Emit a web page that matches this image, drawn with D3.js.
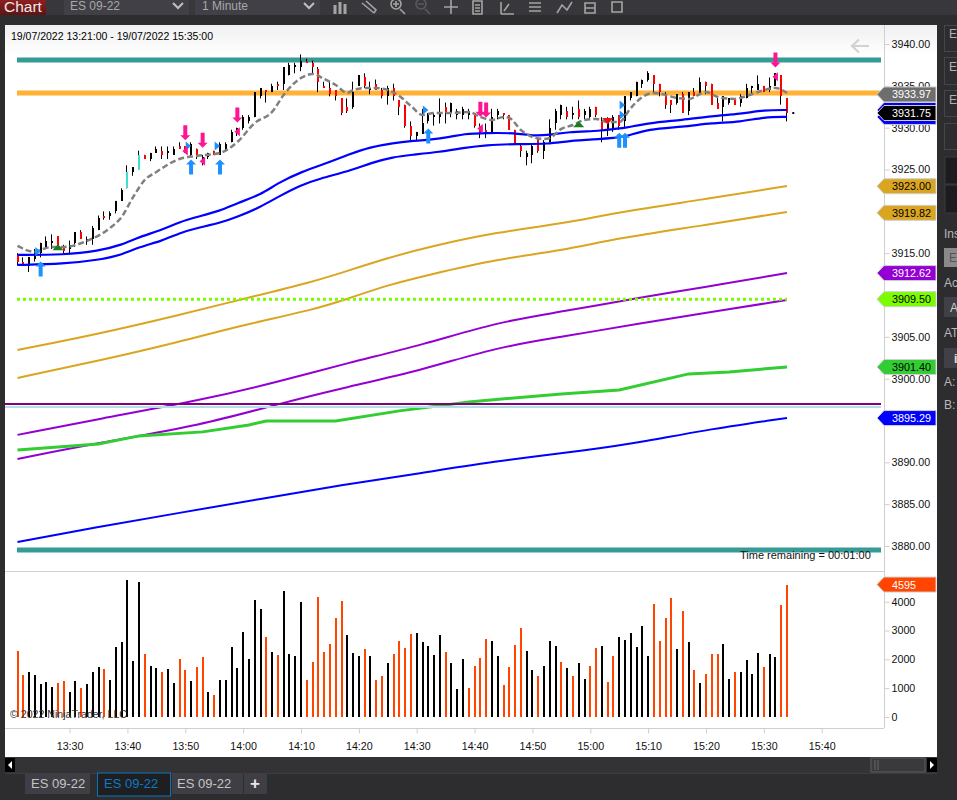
<!DOCTYPE html>
<html><head><meta charset="utf-8">
<script src="https://cdn.jsdelivr.net/npm/d3@7/dist/d3.min.js"></script>
<style>html,body{margin:0;padding:0;background:#2d2d30;overflow:hidden}svg{display:block}text{font-family:"Liberation Sans",Arial,sans-serif}</style>
</head><body><svg id="c" width="957" height="800"></svg>
<script>
// ---------- DATA ----------
const rangeLabel="19/07/2022 13:21:00 - 19/07/2022 15:35:00";
const firstBarMinute=13*60+21, lastBarMinute=15*60+34;
const priceTicks=[3940,3935,3930,3925,3915,3905,3900,3890,3885,3880];
const volumeTicks=[0,1000,2000,3000,4000];
const timeTickLabels=["13:30","13:40","13:50","14:00","14:10","14:20","14:30","14:40","14:50","15:00","15:10","15:20","15:30","15:40"];
const highs=[3915,3914.5,3914.5,3915.5,3916.25,3917,3917.25,3917,3916,3916.5,3917.5,3917.75,3917,3918.25,3919.5,3920,3920,3921.25,3922.75,3925.5,3925.25,3927.25,3926.75,3927,3927.75,3927.75,3927.75,3927.75,3928.25,3927.75,3928.25,3927.5,3926.75,3927,3927.25,3928.25,3928.25,3929.75,3930,3931.5,3931.5,3934.25,3934.75,3934.5,3935.25,3935.5,3937.25,3937.75,3937.75,3938.75,3938.25,3938,3937.25,3935.5,3935.5,3934.5,3933.5,3933.5,3935.5,3936.25,3936.5,3935.5,3935.75,3934.75,3935,3935.25,3933.25,3932.75,3930.75,3929.5,3932.25,3931.75,3931.75,3933.5,3933,3933,3932.25,3932.5,3932.25,3931.75,3930.5,3930.5,3932.25,3932.25,3931.75,3931.5,3929.75,3928,3927.25,3928,3928.75,3928.5,3931,3932.25,3932.75,3932.5,3932.5,3933.25,3932.25,3932.5,3932.5,3931.25,3931.25,3931.5,3931.5,3933.75,3934.25,3935.5,3935.75,3936.75,3936.25,3935.25,3934.25,3933.25,3934,3934.25,3934.25,3934.75,3936,3935.5,3935.25,3933.75,3933.75,3933.5,3933.5,3934,3935.25,3935,3936.25,3935,3936,3936.5,3936.25,3933.5];
const lows=[3913.5,3913.75,3912.75,3914,3914.5,3915.5,3915.5,3915.5,3915,3915,3915.75,3916.75,3916,3916,3917.75,3919,3919,3919.75,3921.25,3922.75,3924.25,3925,3926.25,3926,3927,3926.25,3926.25,3926.75,3927.5,3927,3926.5,3926.25,3925.5,3926.25,3926.75,3926.75,3927.25,3928.25,3929,3929.75,3930.5,3931.25,3933.5,3933,3934.25,3934.5,3934.5,3936.25,3936.5,3936.75,3937.75,3936.5,3934.25,3934.75,3933.75,3933.25,3931.5,3931.75,3932.25,3935,3934.75,3934,3934.5,3933.5,3932.75,3933.25,3931.5,3930,3928.5,3928.5,3929.25,3930.5,3930.25,3930.5,3930.5,3931.25,3931,3931,3931,3930,3928.75,3928.75,3929.25,3931,3931,3929.75,3928,3926.5,3925.5,3925.75,3927,3926.25,3928.25,3929.75,3931,3931,3931,3931,3931,3931,3931.25,3928.25,3929,3929.5,3929.75,3930,3933.25,3933.75,3934.75,3935.5,3934.25,3933.75,3932.25,3931.75,3932.75,3931.75,3931.5,3933.75,3934,3934,3932.75,3932.25,3930.75,3932.75,3932.75,3932.5,3933.5,3934,3934.5,3934.25,3934.25,3935,3932.75,3930.75];
const opens=[3914.75,3914,3913.5,3914.25,3915,3915.75,3916.25,3917,3915.75,3915.5,3916.25,3917.5,3916.5,3916.75,3917.75,3919.5,3919.5,3920,3921.25,3922.75,3924.75,3925,3926.75,3926.25,3927,3927.25,3927,3926.75,3927.75,3927.75,3926.75,3927.5,3925.75,3926.5,3927.25,3926.75,3927.25,3928.25,3929.25,3930,3930.75,3931.25,3933.75,3934.5,3934.25,3935.25,3935.25,3936.25,3937.25,3937.25,3938,3937.75,3937,3935,3934.75,3934.5,3933.5,3932.5,3932.5,3935,3936,3934.5,3935.25,3934.5,3933.75,3934.75,3933.25,3932.75,3930.25,3929,3929.25,3930.75,3931.25,3931.25,3932.5,3931.75,3931.5,3931.5,3931.5,3931.75,3930.25,3929.75,3929.25,3931.5,3931.75,3931.5,3929.75,3927.75,3926.5,3926.75,3928.75,3927.25,3928.25,3930.5,3931.5,3932,3931.5,3932.25,3931.5,3931.25,3932.5,3930.75,3929.75,3930,3931.5,3930.75,3933.5,3933.75,3935.25,3935.75,3936.25,3935.25,3934,3933.25,3933,3934,3932,3934.25,3934,3935.5,3935.25,3933,3932.5,3933,3933.5,3933,3933.5,3934.75,3934.5,3935,3934.5,3935,3936.25,3933.5];
const closes=[3914,3913.75,3914.5,3915,3916.25,3916.5,3916.5,3916,3915.25,3916,3917.5,3916.75,3916.75,3918,3919.25,3919.25,3919.75,3921.25,3922.5,3924.75,3925.25,3926.75,3926.25,3927,3927.5,3926.75,3927.25,3927.5,3927.5,3927.25,3928,3926.75,3926.5,3927,3926.75,3928,3928,3929.5,3930,3931.25,3931.25,3934.25,3934.75,3934.25,3935,3935,3937.25,3937.5,3937.5,3938,3937.75,3937.25,3935.5,3934.75,3934,3933.75,3931.75,3932,3934.25,3936.25,3935,3934.75,3934.5,3933.75,3934.75,3933.75,3932.5,3930.25,3929,3929.5,3930.5,3931.75,3931.5,3931.75,3931.75,3933,3932,3932.25,3932,3930.25,3929.25,3929.5,3931.25,3932,3931.5,3929.75,3928,3927.25,3927,3927.75,3927.25,3928.25,3930,3932,3932.75,3931.25,3931.75,3931.25,3932,3932.25,3931.5,3929.75,3930.5,3931.25,3930.25,3933.75,3934.25,3935.5,3935.75,3936.5,3935.25,3934.25,3932.75,3932.75,3934,3931.75,3934.25,3933.75,3935.5,3935,3932.75,3932.25,3933.75,3933.5,3932.75,3933.75,3934.75,3935,3935.25,3934.25,3935,3936.5,3933.75,3931.75];
const tealBars=[19,21];
const volumes=[2280,1446,1550,1446,1134,1203,1030,1168,1238,856,1238,995,1134,1550,1724,1654,1272,2418,2591,4743,1932,4674,2175,1758,1689,1550,1654,1168,2001,1620,1238,1724,2071,856,752,1272,1272,2418,1689,2939,2001,4050,3737,2765,2245,2140,4362,2175,2106,3980,1272,1897,4154,2245,2522,3425,4015,2835,2210,2106,2349,2106,1272,1412,1863,2175,2626,2383,2869,2904,2591,2453,2140,2835,2245,1863,960,2001,995,1758,2036,2696,2626,2106,1099,1724,2487,3078,2279,1620,1412,1758,2626,2453,1897,1689,1412,1863,1307,1758,2383,2453,1203,2106,2765,2661,2904,2418,3159,2117,3922,2638,3436,4130,2360,3679,2603,1631,1180,1492,2187,2187,2534,1319,1562,1562,1978,1492,2221,1735,2187,2083,3887,4595];
const volumeUp=[0,0,1,1,1,1,1,0,0,1,1,0,1,1,1,0,1,1,1,1,1,1,0,1,1,0,1,1,0,0,1,0,0,1,0,1,1,1,1,1,1,1,1,0,1,0,1,1,1,1,0,0,0,0,0,0,0,1,1,1,0,1,0,0,1,0,0,0,0,1,1,1,1,1,0,1,1,1,0,0,0,0,1,1,0,0,0,0,1,1,0,1,1,1,0,1,0,1,1,0,0,1,0,0,1,1,1,1,1,1,0,0,0,0,1,0,1,0,1,0,0,0,1,1,0,1,1,1,1,0,1,1,0,0];
const grayBars=[0,3,4,6,8,12,16,18,20,22,24,28,31,35,38,41,44,46,49,51,53,55,57,58,60,62,64,66,68,70,72,75,78,80,82,84,85,87,89,91,92,94,96,98,100,102,104,106,108,110,112,114,116,119,121,124,126,128,131,133];
const grayValues=[3915.86,3915.15,3915.39,3915.74,3915.74,3916.46,3918.01,3919.33,3921.72,3923.75,3924.71,3926.26,3926.62,3926.98,3928.29,3930.56,3931.88,3933.91,3935.94,3936.42,3935.82,3935.1,3934.15,3934.5,3934.74,3934.74,3934.5,3933.79,3932.59,3931.52,3931.76,3931.76,3931.88,3931.28,3930.92,3931.28,3931.16,3929.73,3928.89,3928.65,3928.77,3929.85,3930.32,3930.92,3931.04,3930.68,3930.68,3932.35,3933.67,3934.15,3933.91,3933.55,3933.43,3934.27,3933.67,3933.43,3933.79,3934.27,3934.74,3934.15];
const blueUpperBars=[0,8,14,18,21,25,28,31,35,38,42,45,49,54,57,61,65,68,71,75,77,81,86,89,92,95,101,103,105,109,115,120,125,129,133];
const blueUpperValues=[3914.79,3914.79,3915.26,3915.98,3916.94,3917.78,3918.73,3919.33,3920.05,3921,3921.96,3923.39,3924.71,3925.9,3926.74,3927.69,3928.17,3928.41,3928.53,3928.89,3929.25,3929.37,3929.37,3929.01,3929.13,3929.49,3929.61,3929.85,3929.96,3930.56,3930.92,3931.4,3931.64,3932.11,3932.11];
const blueLowerBars=[0,8,14,18,21,25,28,31,35,38,42,45,49,52,58,61,65,68,73,77,81,86,92,95,101,103,105,109,115,120,125,129,133];
const blueLowerValues=[3913.59,3913.71,3914.19,3914.79,3915.74,3916.46,3917.42,3918.01,3918.61,3919.33,3920.52,3921.72,3923.15,3923.87,3924.95,3925.78,3926.5,3926.74,3927.1,3927.57,3927.93,3928.05,3928.05,3928.41,3928.65,3928.77,3928.89,3929.85,3930.09,3930.56,3930.68,3931.28,3931.28];
const goldBars=[0,14,28,39,51,57,64,71,83,94,104,118,133];
const goldUpperValues=[3903.43,3905.35,3907.62,3909.53,3911.56,3912.88,3914.43,3915.74,3917.54,3918.49,3919.93,3921.36,3923.03];
const goldLowerValues=[3900.09,3902.12,3904.39,3906.42,3908.21,3909.53,3911.2,3912.4,3914.31,3915.27,3916.82,3918.25,3919.93];
const purpleBars=[0,14,32,45,57,70,83,94,108,118,133];
const purpleUpperValues=[3893.28,3895.19,3897.46,3899.61,3901.88,3904.03,3906.78,3907.98,3909.77,3910.84,3912.64];
const purpleLowerValues=[3890.41,3892.32,3894.47,3896.98,3899.01,3901.04,3903.79,3904.99,3906.66,3907.74,3909.41];
const greenBars=[0,7,14,21,32,40,43,55,66,78,94,104,116,123,133];
const greenValues=[3891.48,3891.84,3892.2,3893.16,3893.64,3894.47,3894.95,3894.95,3896.15,3897.22,3898.18,3898.65,3900.57,3900.81,3901.4];
const lowBlueBars=[0,14,28,42,56,70,83,99,109,118,133];
const lowBlueValues=[3880.49,3882.28,3883.96,3885.63,3887.3,3888.74,3890.17,3891.48,3892.56,3893.76,3895.31];
const tealLevels=[3938.09,3879.52];
const orangeLevel=3934.15, limeLevel=3909.5, maroonLevel=3896.98, paleLevel=3896.62;
const upArrowBars=[4,30,35,71,104,105], upArrowPrices=[3913.1,3925.3,3925.3,3929,3928.5,3928.5];
const downArrowBars=[29,32,38,80,81,131], downArrowPrices=[3929.4,3928.5,3931.5,3932.2,3932.1,3938.1];
const rightTriBars=[3.5,29.5,34.5,70.5,104.5,104.5], rightTriPrices=[3915.2,3927.8,3927.8,3932.1,3932.7,3931.5];
const leftTriBars=[29,32,38,80,131], leftTriPrices=[3927.2,3926,3929.5,3929.9,3936.1];
const greenTriBars=[7,97], greenTriPrices=[3915.7,3930.4];
const redTriBars=[102], redTriPrices=[3930.8];
const flagValues=["3933.97","3932.11","3931.28","3931.75","3923.00","3919.82","3912.62","3909.50","3901.40","3895.29"];
const flagShown=[1,0,0,1,1,1,1,1,1,1];
const flagFill=["#6e6e6e","#0000ff","#0000ff","#000000","#daa520","#daa520","#9400d3","#7cfc00","#32cd32","#0000ff"];
const flagText=["#fff","#fff","#fff","#fff","#000","#000","#fff","#000","#000","#fff"];
const volumeFlag=4595;

// ---------- LAYOUT ----------
const svg=d3.select("#c");
const utc=m=>new Date(Date.UTC(2022,6,19,Math.floor(m/60),m%60));
const x=d3.scaleUtc().domain([utc(firstBarMinute),utc(lastBarMinute)]).range([17.5,787]);
const xb=i=>x(utc(firstBarMinute))+ (x(utc(lastBarMinute))-x(utc(firstBarMinute)))*i/(lastBarMinute-firstBarMinute);
const xr=i=>Math.floor(xb(i)-.5);
const y=d3.scaleLinear().domain([3880,3940]).range([546,44]);
const yv=d3.scaleLinear().domain([0,4000]).range([717,601.7]);
const PL=5,PR=937,PT=25,PB=757,AX=884,XA=728,SEP=571;

// chrome
const defs=svg.append("defs");
const g1=defs.append("linearGradient").attr("id","hdr").attr("x1",0).attr("x2",0).attr("y1",0).attr("y2",1);
g1.append("stop").attr("offset",0).attr("stop-color","#f0f0f0");g1.append("stop").attr("offset",1).attr("stop-color","#ffffff");
const g2=defs.append("linearGradient").attr("id","red").attr("x1",0).attr("x2",0).attr("y1",0).attr("y2",1);
g2.append("stop").attr("offset",0).attr("stop-color","#8c2020");g2.append("stop").attr("offset",1).attr("stop-color","#5e1414");
const clip=defs.append("clipPath").attr("id","pl");clip.append("rect").attr("x",PL).attr("y",PT).attr("width",AX-PL).attr("height",XA-PT);

const R=(g,a,b,w,h,f,s)=>g.append("rect").attr("x",a).attr("y",b).attr("width",w).attr("height",h).attr("fill",f).attr("stroke",s||"none");
const T=(g,a,b,t,sz,f,anc,w)=>g.append("text").attr("x",a).attr("y",b).text(t).attr("font-size",sz).attr("fill",f).attr("text-anchor",anc||"start").attr("font-weight",w||"normal");
R(svg,0,0,957,800,"#2d2d30");
R(svg,0,0,957,15,"#38383c");
R(svg,0,0,46,15,"url(#red)");
T(svg,4,12,"Chart",15.5,"#f0e8e8");
R(svg,64,0,125,15,"#404046");R(svg,195,0,125,15,"#404046");
T(svg,70,10,"ES 09-22",12,"#a8a8a8");T(svg,202,10,"1 Minute",12,"#a8a8a8");
[178,309].forEach(a=>svg.append("path").attr("d",`M${a-5},3L${a},8L${a+5},3`).attr("fill","none").attr("stroke","#c0c0c0").attr("stroke-width",2));
const ic=svg.append("g").attr("fill","none").attr("stroke","#a4a4a4").attr("stroke-width",1.6);
ic.append("path").attr("d","M335,5V14M340,2V14M345,4V14").attr("stroke-width",3);
ic.append("path").attr("d","M362,3L374,13M366,1L376,10L374,13");
ic.append("path").attr("d","M393,4h6M396,1v6M400,9L405,14");ic.append("circle").attr("cx",396).attr("cy",4).attr("r",5);
ic.append("g").attr("stroke","#5a5a5e").call(s=>{s.append("circle").attr("cx",421).attr("cy",4).attr("r",5);s.append("path").attr("d","M418,4h6M425,9L430,14");});
ic.append("path").attr("d","M451,0V14M444,7H458");
ic.append("path").attr("d","M473,1H482V14H473ZM475,5h5M475,8h5M475,11h5");
ic.append("path").attr("d","M501,14V2M501,14H514M504,11L509,4");
ic.append("path").attr("d","M529,3h12M529,7h12M529,11h12");
ic.append("path").attr("d","M557,13L562,5L567,10L572,2");
ic.append("path").attr("d","M585,3h10v10h-10ZM585,8h10");
ic.append("path").attr("d","M612,2h10v10h-10Z");
// right panel
const rp=svg.append("g");
[[25,26],[57,27],[90,26],[123,26]].forEach(d=>R(rp,944.5,d[0]+.5,20,d[1],"#2d2d30","#45454a"));
R(rp,945,157,20,27,"#1c1c1e","#3a3a3e");R(rp,945,185,20,28,"#1c1c1e","#3a3a3e");
[38,71,104].forEach(b=>T(rp,949,b,"E",12,"#b0b0b0"));
T(rp,944,238,"Ins",12,"#b8b8b8");R(rp,944,248,20,19,"#8a8a8a");T(rp,949,262,"E",12,"#555");
T(rp,944,287,"Ac",12,"#b8b8b8");R(rp,944,297,20,20,"#404046");T(rp,950,312,"A",12,"#d0d0d0");
T(rp,944,337,"AT",12,"#b8b8b8");R(rp,944,348,20,20,"#404046");T(rp,954,363,"i",12,"#e0e0e0","start","bold");
T(rp,944,386,"A:",12,"#b8b8b8");T(rp,944,409,"B:",12,"#b8b8b8");

// plot bg
R(svg,PL,PT,PR-PL,PB-PT,"#ffffff");
R(svg,PL,PT,PR-PL,30,"url(#hdr)");
svg.append("path").attr("d",`M${PL},${SEP+.5}H${AX}M${PL},${XA+.5}H${AX}M${AX+.5},${PT}V${XA}`).attr("stroke","#cfcfcf").attr("fill","none");
T(svg,11,40,rangeLabel,10.5,"#000");
svg.append("path").attr("d","M869,46H853M859,39.5L852,46L859,52.5").attr("fill","none").attr("stroke","#d2d2d2").attr("stroke-width",2.2);

// axes
const axisStyle=g=>{g.select(".domain").remove();g.selectAll("line").attr("stroke","#cfcfcf");g.selectAll("text").attr("font-size",10.7).attr("fill","#111").attr("font-family",'"Liberation Sans",Arial,sans-serif');};
const pfmt=d3.format(".2f");
svg.append("g").attr("transform",`translate(${AX+.5},0)`).call(d3.axisRight(y).tickValues(priceTicks).tickSize(5).tickPadding(2).tickFormat(pfmt)).call(axisStyle);
svg.append("g").attr("transform",`translate(${AX+.5},0)`).call(d3.axisRight(yv).tickValues(volumeTicks).tickSize(5).tickPadding(2).tickFormat(d3.format("d"))).call(axisStyle);
const timeTicks=timeTickLabels.map(s=>{const p=s.split(":");return utc(+p[0]*60+ +p[1]);});
svg.append("g").attr("transform",`translate(0,${XA+.5})`).call(d3.axisBottom(x).tickValues(timeTicks).tickSize(5).tickPadding(9).tickFormat(d3.utcFormat("%H:%M"))).call(axisStyle);

// plot layers
const plot=svg.append("g").attr("clip-path","url(#pl)");
const hl=(p,a,b,c,w,dash)=>plot.append("line").attr("x1",a).attr("x2",b).attr("y1",y(p)).attr("y2",y(p)).attr("stroke",c).attr("stroke-width",w).attr("stroke-dasharray",dash||null);
tealLevels.forEach(p=>hl(p,17,881,"#369a97",5));
hl(orangeLevel,17,881,"#ffb235",5);
const lineOf=(bars,vals,c,w,dash,curve)=>{
  const l=d3.line().x((d,i)=>xb(bars[i])).y(d=>y(d)).curve(curve||d3.curveBasis);
  plot.append("path").attr("d",l(vals)).attr("fill","none").attr("stroke",c).attr("stroke-width",w).attr("stroke-dasharray",dash||null);
};
lineOf(lowBlueBars,lowBlueValues,"#0000ff",2);
lineOf(purpleBars,purpleUpperValues,"#9400d3",2);
lineOf(purpleBars,purpleLowerValues,"#9400d3",2);
lineOf(goldBars,goldUpperValues,"#daa520",2);
lineOf(goldBars,goldLowerValues,"#daa520",2);
lineOf(greenBars,greenValues,"#32cd32",3,null,d3.curveLinear);
hl(limeLevel,17,xb(133),"#7cfc00",3,"3,3");
hl(maroonLevel,PL,881,"#800080",2);
hl(paleLevel,PL,881,"#b0e0e6",2);

// candles
const bars=d3.range(highs.length);
const cg=plot.append("g");
cg.selectAll("line").data(bars).join("line")
  .attr("x1",i=>xr(i)+.5).attr("x2",i=>xr(i)+.5)
  .attr("y1",i=>y(highs[i])).attr("y2",i=>y(lows[i])).attr("stroke","#000").attr("stroke-width",1);
cg.selectAll("rect").data(bars).join("rect").attr("shape-rendering","crispEdges")
  .attr("x",i=>xr(i)).attr("width",2)
  .attr("y",i=>y(Math.max(opens[i],closes[i])))
  .attr("height",i=>Math.max(1.5,Math.abs(y(opens[i])-y(closes[i]))))
  .attr("fill",i=>tealBars.includes(i)?"#40e0d0":closes[i]>=opens[i]?"#000":"#ff0000");

lineOf(blueUpperBars,blueUpperValues,"#0000ff",2.2);
lineOf(blueLowerBars,blueLowerValues,"#0000ff",2.2);
lineOf(grayBars,grayValues,"#808080",2.5,"6,3",d3.curveMonotoneX);

// markers
const marker=(bs,ps,shape,fill)=>plot.append("g").selectAll("path").data(bs).join("path")
  .attr("transform",(b,i)=>`translate(${xb(b)},${y(ps[i])})`).attr("d",shape).attr("fill",fill);
marker(upArrowBars,upArrowPrices,"M0,-7.5L5,-2.5H2V7.5H-2V-2.5H-5Z","#1e90ff");
marker(downArrowBars,downArrowPrices,"M0,7.5L5,2.5H2V-7.5H-2V2.5H-5Z","#ff1493");
marker(rightTriBars,rightTriPrices,"M-2.5,-4.5L3,0L-2.5,4.5Z","#1e90ff");
marker(leftTriBars,leftTriPrices,"M2.5,-4.5L-3,0L2.5,4.5Z","#ff1493");
marker(greenTriBars,greenTriPrices,"M0,-3L5.5,3H-5.5Z","#1c7c1c");
marker(redTriBars,redTriPrices,"M0,3.5L-5.5,-3H5.5Z","#e01818");

// volume
plot.append("g").selectAll("rect").data(volumes).join("rect").attr("shape-rendering","crispEdges")
  .attr("x",(v,i)=>xr(i)).attr("width",2)
  .attr("y",v=>yv(v)).attr("height",v=>yv(0)-yv(v))
  .attr("fill",(v,i)=>volumeUp[i]?"#000":"#ff4500");

// close marker
plot.append("rect").attr("x",xb(134)-.5).attr("y",y(closes[133])-1).attr("width",2).attr("height",2).attr("fill","#000");

// overlays text
T(svg,740,558.5,"Time remaining = 00:01:00",11,"#111");
T(svg,10,718,"\u00a9 2022 NinjaTrader, LLC",10.6,"#333");

// flags
const flagPath=(yc,h)=>`M877,${yc}L884,${yc-h}H936V${yc+h}H884Z`;
const fl=svg.append("g");
flagValues.forEach((v,i)=>{
  const yc=y(+v);
  fl.append("path").attr("d",flagPath(yc,7.5)).attr("fill",flagFill[i]).attr("stroke","#cfcfcf");
  if(flagShown[i])T(fl,892,yc+4,v,10.8,flagText[i]);
});
const vy=yv(volumeFlag);
fl.append("path").attr("d",flagPath(vy,7.5)).attr("fill","#ff4500").attr("stroke","#cfcfcf");
T(fl,892,vy+4,String(volumeFlag),10.8,"#fff");

// bottom scroll band and tabs
R(svg,PL,PB,PR-PL,16,"#333335");
R(svg,5,758,10,14,"#000");svg.append("path").attr("d","M12,761V769L8,765Z").attr("fill","#fff");
R(svg,871,758,54,14,"#3a3a3c","#5e5e60");svg.append("path").attr("d","M875,760V770M878,760V770").attr("stroke","#666");
R(svg,927,758,10,14,"#000");svg.append("path").attr("d","M930,761V769L934,765Z").attr("fill","#fff");
R(svg,PL,773,PR-PL,1,"#3d3d40");
R(svg,25,773,65,21,"#3e3e44");T(svg,31,788,"ES 09-22",13,"#c4c4c4");
R(svg,97.5,773,73,23,"#1f1f21","#0a74c0");T(svg,104,788,"ES 09-22",13,"#0a7ac8");
R(svg,172,773,71,21,"#3e3e44");T(svg,177,788,"ES 09-22",13,"#c4c4c4");
R(svg,244,773,23,21,"#3e3e44");T(svg,255,789,"+",17,"#e8e8e8","middle","bold");
</script></body></html>
